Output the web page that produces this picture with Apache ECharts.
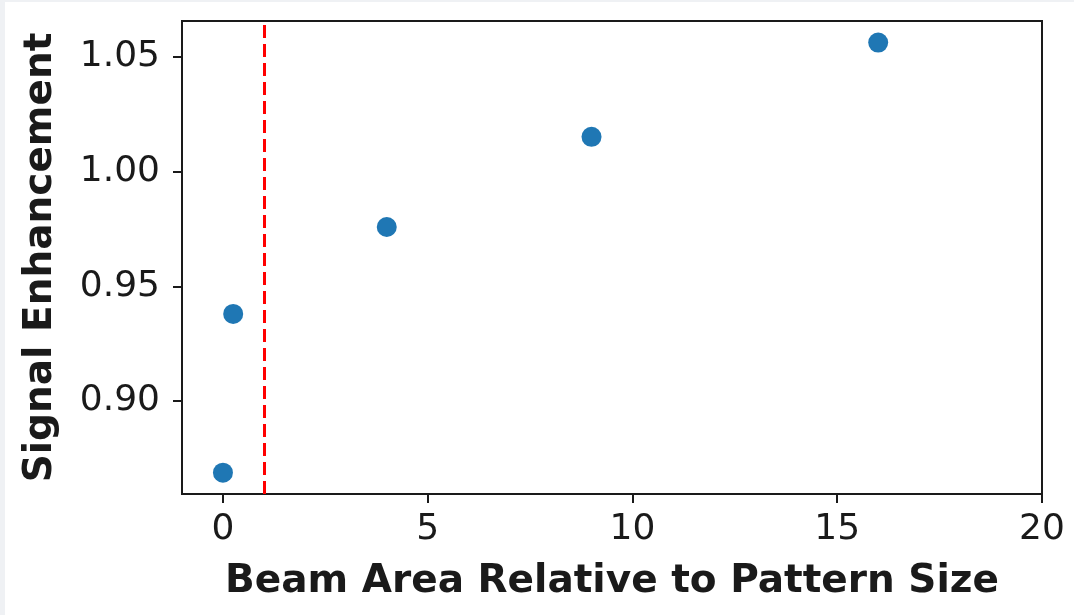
<!DOCTYPE html>
<html>
<head>
<meta charset="utf-8">
<script src="https://cdn.jsdelivr.net/npm/echarts@6/dist/echarts.min.js"></script>
<style>
  html, body { margin: 0; padding: 0; background: #eff1f4; }
  #main { position: absolute; left: 5px; top: 2px; width: 1069px; height: 613px; background: #fff; }
</style>
</head>
<body>
<div id="main"></div>
<script>
// beam area relative to pattern size vs. signal enhancement
var beamArea = [0, 0.25, 4, 9, 16]
var enhancement = [0.8688, 0.938, 0.9759, 1.0152, 1.0563]
var xTicks = [0, 5, 10, 15, 20]
var yTicks = [0.90, 0.95, 1.00, 1.05]
var cutoff = 1

var points = beamArea.map(function (x, i) { return [x, enhancement[i]] })

var myChart = echarts.init(document.getElementById('main'))

var font = 'DejaVu Sans'
var ink = '#1a1a1a'

var option = {
	animation: false,
	grid: {
		left: 177,
		top: 19,
		right: 32,
		bottom: 121,
		show: true,
		borderColor: ink,
		borderWidth: 2,
	},
	xAxis: {
		type: 'value',
		min: -1,
		max: 20,
		name: 'Beam Area Relative to Pattern Size',
		nameLocation: 'middle',
		nameGap: 68,
		nameTextStyle: { fontFamily: font, fontWeight: 'bold', fontSize: 39, color: ink },
		splitLine: { show: false },
		axisLine: { onZero: false, lineStyle: { color: ink, width: 2 } },
		axisTick: { customValues: xTicks, length: 9, lineStyle: { color: ink, width: 2 } },
		axisLabel: {
			customValues: xTicks,
			margin: 18,
			fontFamily: font,
			fontSize: 36,
			color: ink,
		},
	},
	yAxis: {
		type: 'value',
		min: 0.8595,
		max: 1.0657,
		name: 'Signal Enhancement',
		nameLocation: 'middle',
		nameRotate: 90,
		nameGap: 122,
		nameTextStyle: { fontFamily: font, fontWeight: 'bold', fontSize: 39, color: ink },
		splitLine: { show: false },
		axisLine: { show: true, onZero: false, lineStyle: { color: ink, width: 2 } },
		axisTick: { show: true, customValues: yTicks, length: 9, lineStyle: { color: ink, width: 2 } },
		axisLabel: {
			customValues: yTicks,
			margin: 22,
			fontFamily: font,
			fontSize: 36,
			color: ink,
			formatter: function (v) { return v.toFixed(2) },
		},
	},
	series: [
		{
			type: 'scatter',
			data: points,
			symbolSize: 20,
			itemStyle: { color: '#1f77b4', opacity: 1 },
			markLine: {
				silent: true,
				symbol: 'none',
				label: { show: false },
				lineStyle: { color: '#ff0000', type: [13, 6], width: 3 },
				data: [{ xAxis: cutoff }],
			},
		},
	],
}
myChart.setOption(option)
</script>
</body>
</html>
